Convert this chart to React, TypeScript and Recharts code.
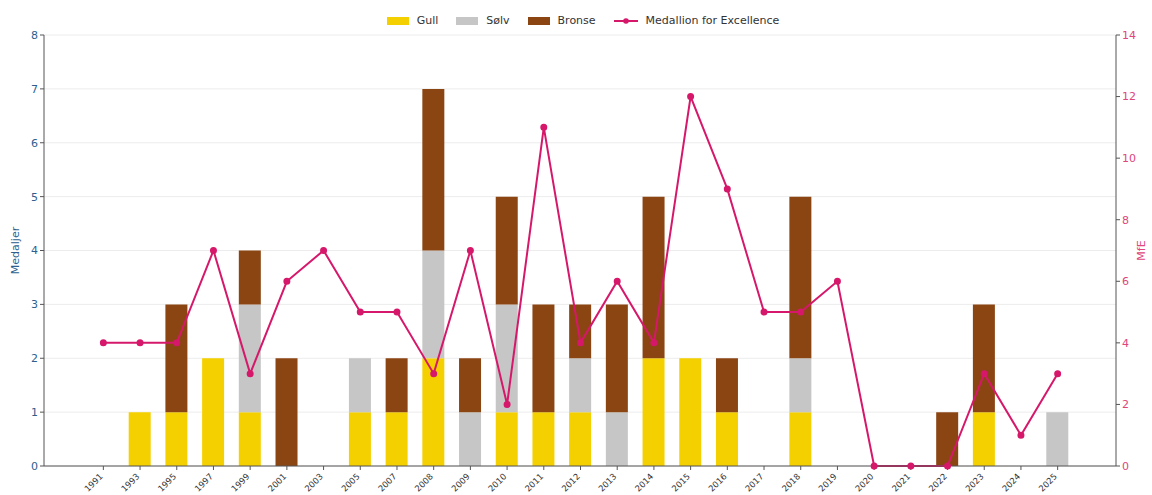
import React from 'react';
import { ComposedChart, Bar, Line, XAxis, YAxis, CartesianGrid } from 'recharts';

const years = ['1991','1993','1995','1997','1999','2001','2003','2005','2007','2008','2009','2010','2011','2012','2013','2014','2015','2016','2017','2018','2019','2020','2021','2022','2023','2024','2025'];
const gull =   [0,1,1,2,1,0,0,1,1,2,0,1,1,1,0,2,2,1,0,1,0,0,0,0,1,0,0];
const solv =   [0,0,0,0,2,0,0,1,0,2,1,2,0,1,1,0,0,0,0,1,0,0,0,0,0,0,1];
const bronse = [0,0,2,0,1,2,0,0,1,3,1,2,2,1,2,3,0,1,0,3,0,0,0,1,2,0,0];
const mfe =    [4,4,4,7,3,6,7,5,5,3,7,2,11,4,6,4,12,9,5,5,6,0,0,0,3,1,3];
const leftTicks = [0,1,2,3,4,5,6,7,8];
const rightTicks = [0,2,4,6,8,10,12,14];

const GOLD = '#F5D000';
const SILVER = '#C6C6C6';
const BRONZE = '#8B4513';
const PINK = '#D6186B';
const FONT = 'DejaVu Sans, sans-serif';

const data = years.map((y, i) => ({ year: y, gull: gull[i], solv: solv[i], bronse: bronse[i], mfe: mfe[i] }));

const XTick = (props: any) => {
  const { x, y, payload } = props;
  return (
    <text x={x} y={y + 5} transform={`rotate(-45, ${x}, ${y + 5})`} textAnchor="end" fontSize={8.5} fill="#333" fontFamily={FONT}>
      {payload.value}
    </text>
  );
};

const LegendBox = () => {
  const item = (color: string, label: string) => (
    <div style={{ display: 'flex', alignItems: 'center', marginRight: 18 }}>
      <div style={{ width: 22, height: 8, background: color, marginRight: 8 }} />
      <span>{label}</span>
    </div>
  );
  return (
    <div style={{ position: 'absolute', top: 14, left: 0, width: 1152, display: 'flex', justifyContent: 'center', alignItems: 'center', fontFamily: FONT, fontSize: 11, color: '#333', paddingLeft: 14, boxSizing: 'border-box' }}>
      {item(GOLD, 'Gull')}
      {item(SILVER, 'Sølv')}
      {item(BRONZE, 'Bronse')}
      <div style={{ display: 'flex', alignItems: 'center' }}>
        <svg width={24} height={8} style={{ marginRight: 8 }}>
          <line x1={0} y1={4} x2={24} y2={4} stroke={PINK} strokeWidth={2} />
          <circle cx={12} cy={4} r={2.8} fill={PINK} />
        </svg>
        <span>Medallion for Excellence</span>
      </div>
    </div>
  );
};

export default function App() {
  return (
    <div style={{ position: 'absolute', top: 0, left: 0, width: 1152, height: 495, background: '#fff' }}>
      <ComposedChart width={1152} height={495} data={data} margin={{ top: 35, right: 0, left: 10, bottom: 0 }}>
        <CartesianGrid yAxisId="left" vertical={false} stroke="#ececec" />
        <XAxis dataKey="year" height={29} padding={{ left: 41, right: 40 }} interval={0} tick={<XTick />} tickSize={4} axisLine={{ stroke: '#555' }} tickLine={{ stroke: '#555' }} />
        <YAxis yAxisId="left" width={34} domain={[0, 8]} ticks={leftTicks} tickSize={4} tick={{ fill: '#2E5F8E', fontSize: 11, fontFamily: FONT }} axisLine={{ stroke: '#555' }} tickLine={{ stroke: '#555' }}
          label={{ value: 'Medaljer', angle: -90, position: 'center', dx: -12, fill: '#2E5F8E', fontSize: 11, fontFamily: FONT }} />
        <YAxis yAxisId="right" orientation="right" width={36} domain={[0, 14]} ticks={rightTicks} tickSize={4} tick={{ fill: '#E0457B', fontSize: 11, fontFamily: FONT }} axisLine={{ stroke: '#555' }} tickLine={{ stroke: '#555' }}
          label={{ value: 'MfE', angle: -90, position: 'center', dx: 7, fill: '#E0457B', fontSize: 11, fontFamily: FONT }} />
        <Bar yAxisId="left" dataKey="gull" stackId="m" fill={GOLD} barSize={22} isAnimationActive={false} />
        <Bar yAxisId="left" dataKey="solv" stackId="m" fill={SILVER} barSize={22} isAnimationActive={false} />
        <Bar yAxisId="left" dataKey="bronse" stackId="m" fill={BRONZE} barSize={22} isAnimationActive={false} />
        <Line yAxisId="right" type="linear" dataKey="mfe" stroke={PINK} strokeWidth={2} dot={{ r: 2.5, fill: PINK, stroke: PINK }} isAnimationActive={false} />
      </ComposedChart>
      <LegendBox />
    </div>
  );
}
